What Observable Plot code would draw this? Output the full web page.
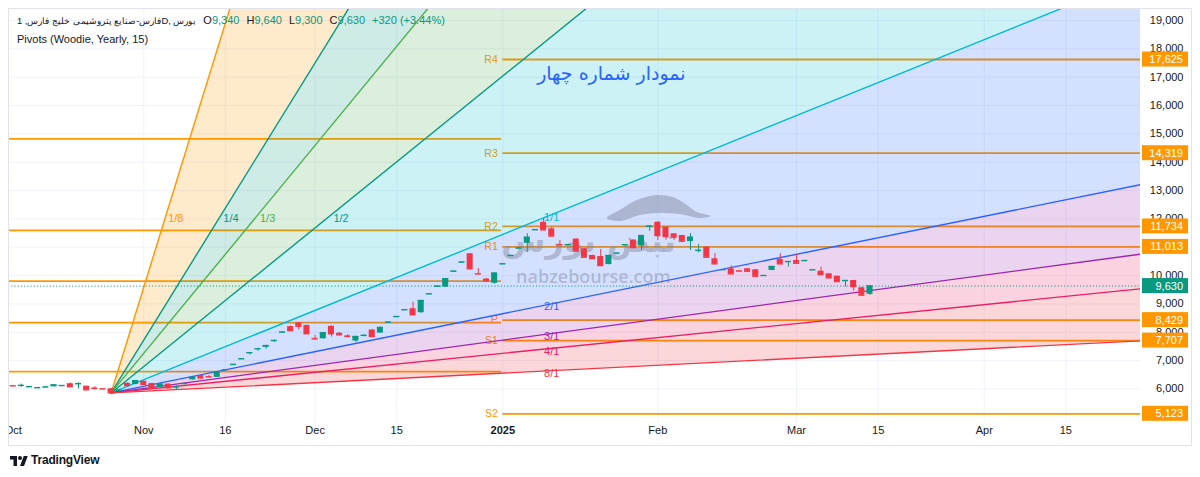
<!DOCTYPE html>
<html>
<head>
<meta charset="utf-8">
<script src="https://cdn.jsdelivr.net/npm/d3@7"></script>
<script src="https://cdn.jsdelivr.net/npm/@observablehq/plot@0.6"></script>
<style>
  body { margin: 0; background: #fff; font-family: "Liberation Sans", Arial, sans-serif; }
  #wrap { position: relative; width: 1200px; height: 477px; overflow: hidden; background: #fff; }
  #chart { position: absolute; left: 0; top: 0; }
  #pane { position: absolute; left: 8px; top: 8px; width: 1184px; height: 438px; border: 1px solid #e0e3eb; box-sizing: border-box; pointer-events: none; }
  #cover { position: absolute; left: 0; top: 424px; width: 8px; height: 22px; background: #fff; }
  #legend { position: absolute; left: 17px; top: 11px; font-size: 11px; color: #131722; line-height: 18px; white-space: nowrap; }
  #legend .sym { font-size: 9.4px; }
  #legend .v { color: #089981; }
  #legend .gap { display: inline-block; width: 7px; }
  #footer { position: absolute; left: 10px; top: 453px; display: flex; align-items: center; gap: 3px; font-size: 12px; font-weight: bold; color: #131722; letter-spacing: -0.2px; }
</style>
</head>
<body>
<div id="wrap">
  <div id="chart"></div>
  <div id="cover"></div>
  <div id="pane"></div>
  <div id="legend"></div>
  <div id="footer">
    <svg width="18" height="13" viewBox="0 0 36 26"><path d="M14 24H7V11H0V4h14v20zM28 24h-8l7.5-20h8L28 24z" fill="#131722"/><circle cx="20" cy="8" r="4" fill="#131722"/></svg>
    <span>TradingView</span>
  </div>
</div>
<script>
// ---------------- DATA ----------------
const symbolText = "فارس-صنایع پتروشیمی خلیج فارس, 1D, بورس";
const indicatorText = "Pivots (Woodie, Yearly, 15)";
const titleText = "نمودار شماره چهار";
const watermarkText = "nabzebourse.com";
const watermarkLogo = "نبض بورس";

// daily candles (bar index = position in arrays)
const opens = [6120,6110,6075,6040,6060,6075,6115,6185,6165,6095,
  6030,6010,6005,5950,6200,6160,6270,6190,6050,6170,
  6050,6170,6320,6470,6440,6410,6665,6855,7055,7270,
  7410,7470,7700,7995,8200,8330,8240,7785,7770,8210,
  7965,7870,7690,7880,8080,7970,8345,8545,8785,8830,
  8690,9345,9615,9590,10145,10465,10770,10070,9880,9730,
  10405,10700,10960,11140,11610,11880,11650,11095,11080,11290,
  10945,10710,10673,10390,10785,11080,11255,11044,11730,11883,
  11706,11474,11414,11202,10880,11001,10592,10200,10239,10170,
  10239,10204,9995,10180,10567,10490,10531,10525,10200,10154,
  10062,9977,9820,9826,9570,9340];
const highs = [6125,6170,6085,6050,6090,6145,6125,6210,6220,6105,
  6080,6015,6010,5960,6215,6300,6285,6200,6175,6185,
  6110,6195,6420,6500,6480,6600,6680,6870,7070,7290,
  7430,7540,7720,8010,8220,8340,8250,7885,7990,8230,
  7990,7920,7860,7910,8100,8180,8360,8560,8800,9060,
  9130,9360,9630,9900,10160,10480,10780,10250,9890,10100,
  10420,10715,10975,11480,11625,12010,11700,11240,11095,11300,
  10950,10720,10920,10720,10800,11095,11260,11420,11750,11900,
  11720,11480,11420,11484,11100,11010,10780,10215,10350,10180,
  10245,10210,10010,10325,10778,10500,10750,10540,10210,10300,
  10070,9985,9830,9835,9580,9640];
const lows = [6105,6060,6070,6035,6050,6070,6110,6075,6000,5960,
  5960,5995,5860,5940,6110,6150,6150,6020,6040,6030,
  5970,6165,6310,6330,6390,6400,6660,6850,7050,7200,
  7330,7400,7640,7990,8050,8080,7940,7760,7760,7830,
  7900,7800,7640,7870,7840,7960,8340,8540,8780,8590,
  8670,9340,9610,9580,10140,10460,10200,10050,9800,9700,
  10400,10695,10955,10825,11605,11600,11380,11080,11075,10850,
  10640,10600,10340,10380,10780,11075,10980,10885,11560,11237,
  11250,11240,11200,10885,10800,10640,10400,10195,10050,10155,
  10150,9970,9990,10170,10400,10300,10430,10520,10195,10030,
  9910,9785,9600,9450,9300,9300];
const closes = [6110,6125,6080,6045,6070,6140,6120,6080,6185,5970,
  6020,6000,5865,5955,6120,6290,6160,6030,6170,6040,
  6070,6190,6410,6390,6430,6590,6675,6865,7065,7280,
  7420,7530,7710,8005,8060,8210,7950,7765,7980,7950,
  7910,7855,7850,7890,7850,8170,8355,8555,8795,8620,
  9120,9355,9625,9890,10155,10475,10240,10060,9810,10084,
  10415,10710,10970,11350,11620,11615,11395,11085,11090,10867,
  10648,10602,10355,10708,10790,11090,10990,11412,11742,11414,
  11378,11354,11213,11354,10890,10648,10415,10210,10062,10160,
  10154,9978,10003,10320,10415,10496,10437,10531,10204,10038,
  9921,9791,9826,9614,9310,9630];

// time axis: bar index of first bar of period, and its label
const xTickBars   = [0, 16, 26, 37, 47, 60, 79, 96, 106, 119, 129];
const xTickLabels = ["Oct", "Nov", "16", "Dec", "15", "2025", "Feb", "Mar", "15", "Apr", "15"];
const yTicks = [6000, 7000, 8000, 9000, 10000, 11000, 12000, 13000, 14000, 15000, 16000, 17000, 18000, 19000];

// Woodie yearly pivots
const pivot2025Names  = ["R4", "R3", "R2", "R1", "P", "S1", "S2"];
const pivot2025Values = [17625, 14319, 11734, 11013, 8429, 7707, 5123];
const pivot2025StartBar = 60;
const pivot2024Values = [14826, 11596, 9808, 8338, 6610];

// Gann fan: origin and the point defining the 1/1 line
const fanOriginBar = 12, fanOriginPrice = 5860;
const fanCtrlBar = 66, fanCtrlPrice = 12150;
const fanLevels = ["1/8", "1/4", "1/3", "1/2", "1/1", "2/1", "3/1", "4/1", "8/1"];
const fanColors = ["#ff9800", "#089981", "#4caf50", "#089981", "#00bcd4", "#2962ff", "#9c27b0", "#e91e63", "#f23645"];
const fanFillColors = ["#ff9800", "#089981", "#4caf50", "#00bcd4", "#2962ff", "#9c27b0", "#e91e63", "#f23645"];

// ---------------- BUILD ----------------
const xDomain = [-0.576, 138.15];
const yDomain = [4781, 19425];
const UP = "#089981", DOWN = "#f23645";
const fmt = d3.format(",");

const candles = opens.map((o, i) => ({i, o, h: highs[i], l: lows[i], c: closes[i]}));
const last = candles[candles.length - 1];
const prevClose = closes[closes.length - 2];

const dBar = fanCtrlBar - fanOriginBar, dPrice = fanCtrlPrice - fanOriginPrice;
const unit = dPrice / dBar;
const mult = name => { const [p, q] = name.split("/").map(Number); return q / p; };
const fanPrice = (k, b) => fanOriginPrice + mult(fanLevels[k]) * unit * (b - fanOriginBar);
const ends = [fanOriginBar, xDomain[1]];
const fanLineData = fanLevels.flatMap((name, k) => ends.map(b => ({k, b, v: fanPrice(k, b)})));
const fanFillData = d3.range(fanLevels.length - 1).flatMap(k => ends.map(b => ({k, b, v1: fanPrice(k, b), v2: fanPrice(k + 1, b)})));
const fanLabelData = fanLevels.map((name, k) => {
  const m = mult(name);
  return m > 1 ? {k, name, b: fanOriginBar + dBar / m, v: fanCtrlPrice, up: true}
               : {k, name, b: fanCtrlBar, v: fanOriginPrice + m * dPrice, up: false};
});
const xTicks = xTickBars.map((b, j) => ({b, label: xTickLabels[j]}));

function rightLabels(index, scales, values, dimensions) {
  const g = d3.create("svg:g");
  const x0 = dimensions.width - dimensions.marginRight + 2;
  const items = pivot2025Values.map(v => ({v, fill: "#ff9800"})).concat([{v: last.c, fill: UP}]);
  for (const it of items) {
    const y = scales.y(it.v);
    g.append("rect").attr("x", x0).attr("y", y - 7.5).attr("width", 46).attr("height", 15).attr("fill", it.fill);
    g.append("text").attr("x", x0 + 41).attr("y", y).attr("dy", "0.36em").attr("text-anchor", "end")
      .attr("fill", "#fff").attr("font-size", 11).attr("font-family", "Liberation Sans, Arial, sans-serif").text(fmt(it.v));
  }
  return g.node();
}

// bull silhouette of the watermark, anchored at a chart position
function bull(index, scales) {
  const x0 = scales.x(72.8), y0 = scales.y(12897);
  const pts = [[0,25],[13,17],[30,7],[50,2],[66,4],[80,12],[90,19],[104,23],[93,25],[73,21],[53,20],[33,22],[13,28]];
  const g = d3.create("svg:g");
  g.append("path").attr("d", d3.line().curve(d3.curveCatmullRomClosed)(pts.map(([a, b]) => [x0 + a, y0 + b])))
    .attr("fill", "#7d8398").attr("fill-opacity", 0.45);
  return g.node();
}

const chart = Plot.plot({
  width: 1200, height: 449,
  marginLeft: 8, marginRight: 60, marginTop: 8, marginBottom: 26,
  style: {fontFamily: "Liberation Sans, Arial, sans-serif", background: "transparent", overflow: "visible"},
  x: {type: "linear", domain: xDomain, axis: null},
  y: {type: "linear", domain: yDomain, axis: null},
  marks: [
    // grid
    Plot.ruleY(yTicks, {y: d => d, stroke: "#f0f3fa", strokeWidth: 1}),
    Plot.ruleX(xTicks.filter(d => d.b > 5), {x: "b", stroke: "#f0f3fa", strokeWidth: 1}),
    // pivots
    Plot.ruleY(pivot2024Values, {y: d => d, x1: () => xDomain[0], x2: () => pivot2025StartBar - 0.15, stroke: "#ff9800", strokeWidth: 1.8}),
    Plot.ruleY(pivot2025Values, {y: d => d, x1: () => pivot2025StartBar, x2: () => xDomain[1], stroke: "#ff9800", strokeWidth: 1.8}),
    Plot.text(pivot2025Values, {y: d => d, x: () => pivot2025StartBar, text: (d, j) => pivot2025Names[j], textAnchor: "end", dx: -5, fill: "#ff9800", fontSize: 10.5}),
    // gann fan
    Plot.areaY(fanFillData, {x: "b", y1: "v1", y2: "v2", z: "k", fill: d => fanFillColors[d.k], fillOpacity: 0.2, clip: true}),
    Plot.line(fanLineData, {x: "b", y: "v", z: "k", stroke: d => fanColors[d.k], strokeWidth: 1.4, clip: true}),
    Plot.text(fanLabelData.filter(d => d.up), {x: "b", y: "v", text: "name", fill: d => fanColors[d.k], textAnchor: "start", dx: 2, dy: 4, fontSize: 11}),
    Plot.text(fanLabelData.filter(d => !d.up), {x: "b", y: "v", text: "name", fill: d => fanColors[d.k], textAnchor: "middle", dy: 3, fontSize: 11}),
    // last price line
    Plot.ruleY([last.c], {y: d => d, stroke: UP, strokeDasharray: "1.2,2", strokeWidth: 1, strokeOpacity: 0.9}),
    // watermark
    bull,
    Plot.text([watermarkLogo], {x: () => 70.5, y: () => 11200, text: d => d, fill: "#80869b", fillOpacity: 0.45, fontSize: 32, fontWeight: "bold", fontFamily: "DejaVu Sans, sans-serif"}),
    Plot.text([watermarkText], {x: () => 71.1, y: () => 9930, text: d => d, fill: "#80869b", fillOpacity: 0.45, fontSize: 18, fontWeight: 600, fontFamily: "Open Sans, sans-serif"}),
    // candles
    Plot.ruleX(candles, {x: "i", y1: "l", y2: "h", stroke: d => d.c >= d.o ? UP : DOWN, strokeWidth: 1}),
    Plot.rect(candles, {x1: d => d.i - 0.37, x2: d => d.i + 0.37, y1: d => Math.min(d.o, d.c), y2: d => Math.max(d.o, d.c), fill: d => d.c >= d.o ? UP : DOWN}),
    Plot.ruleY(candles, {y: "c", x1: d => d.i - 0.37, x2: d => d.i + 0.37, stroke: d => d.c >= d.o ? UP : DOWN, strokeWidth: 1.4}),
    // axes
    Plot.text(yTicks, {y: d => d, frameAnchor: "right", dx: 43, textAnchor: "end", text: d => fmt(d), fill: "#131722", fontSize: 11}),
    Plot.text(xTicks.filter(d => d.label !== "2025"), {x: "b", frameAnchor: "bottom", dy: 10, text: "label", fill: "#131722", fontSize: 11}),
    Plot.text(xTicks.filter(d => d.label === "2025"), {x: "b", frameAnchor: "bottom", dy: 10, text: "label", fill: "#131722", fontSize: 11, fontWeight: "bold"}),
    rightLabels,
    // title
    Plot.text([titleText], {x: () => 73.3, y: () => 17130, text: d => d, fill: "#2962ff", fontSize: 19, fontFamily: "DejaVu Sans, sans-serif"})
  ]
});
document.getElementById("chart").appendChild(chart);

// legend (header)
const lg = document.getElementById("legend");
const chg = last.c - prevClose;
const pct = (chg / prevClose * 100).toFixed(2);
lg.innerHTML =
  `<div><span class="sym">${symbolText}</span><span class="gap"></span>O<span class="v">${fmt(last.o)}</span><span class="gap"></span>H<span class="v">${fmt(last.h)}</span><span class="gap"></span>L<span class="v">${fmt(last.l)}</span><span class="gap"></span>C<span class="v">${fmt(last.c)}</span><span class="gap"></span><span class="v">${chg >= 0 ? "+" : ""}${chg} (${chg >= 0 ? "+" : ""}${pct}%)</span></div>` +
  `<div>${indicatorText}</div>`;
</script>
</body>
</html>
